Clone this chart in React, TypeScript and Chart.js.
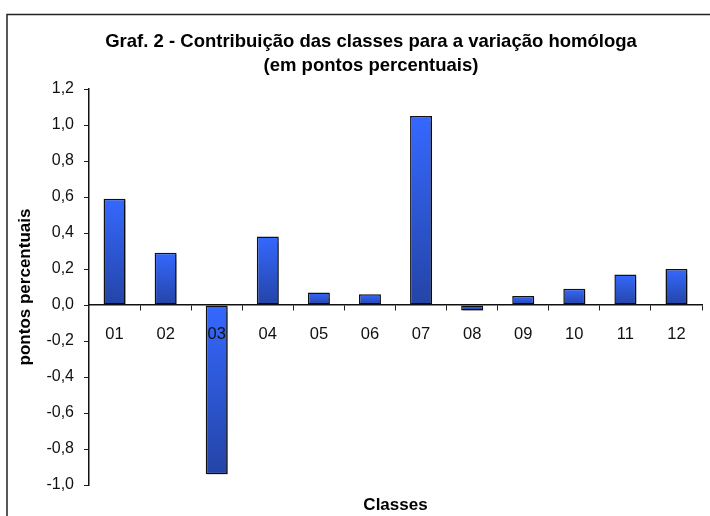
import React, { useEffect, useRef } from "react";
import { Chart, registerables } from "chart.js";

Chart.register(...registerables);

const categories = ["01", "02", "03", "04", "05", "06", "07", "08", "09", "10", "11", "12"];
const contributions = [0.59, 0.29, -0.94, 0.38, 0.07, 0.06, 1.05, -0.03, 0.05, 0.09, 0.17, 0.2];
const titleLines = ["Graf. 2 - Contribuição das classes para a variação homóloga", "(em pontos percentuais)"];
const xTitle = "Classes";
const yTitle = "pontos percentuais";
const yMin = -1.0;
const yMax = 1.2;
const yStep = 0.2;

const FONT = "'Liberation Sans', Arial, sans-serif";

const framePlugin = {
  id: "frame",
  beforeDraw(chart: any) {
    const ctx = chart.ctx;
    ctx.save();
    ctx.fillStyle = "#ffffff";
    ctx.fillRect(0, 0, chart.width, chart.height);
    ctx.strokeStyle = "#222222";
    ctx.lineWidth = 1.5;
    ctx.strokeRect(7, 14.5, chart.width + 50, chart.height + 50);
    ctx.restore();
  },
  afterDraw(chart: any) {
    const ctx = chart.ctx;
    const area = chart.chartArea;
    ctx.save();
    ctx.fillStyle = "#000000";
    ctx.textAlign = "center";
    ctx.textBaseline = "middle";
    ctx.font = `bold 18.5px ${FONT}`;
    ctx.fillText(titleLines[0], 371, 42);
    ctx.fillText(titleLines[1], 371, 66);
    ctx.font = `bold 17px ${FONT}`;
    ctx.fillText(xTitle, (area.left + area.right) / 2, 505);
    ctx.translate(25, (area.top + area.bottom) / 2);
    ctx.rotate(-Math.PI / 2);
    ctx.fillText(yTitle, 0, 0);
    ctx.restore();
  },
};

const shadowPlugin = {
  id: "barShadow",
  beforeDatasetsDraw(chart: any) {
    const ctx = chart.ctx;
    ctx.save();
    ctx.shadowColor = "rgba(0,0,0,0.35)";
    ctx.shadowOffsetX = 2;
    ctx.shadowOffsetY = 2;
    ctx.shadowBlur = 1;
  },
  afterDatasetsDraw(chart: any) {
    chart.ctx.restore();
  },
};

function fmt(v: number) {
  const n = Math.abs(v) < 1e-9 ? 0 : v;
  return n.toFixed(1).replace(".", ",");
}

export default function App() {
  const ref = useRef<HTMLCanvasElement | null>(null);
  useEffect(() => {
    if (!ref.current) return;
    const chart = new Chart(ref.current, {
      type: "bar",
      data: {
        labels: categories,
        datasets: [
          {
            data: contributions,
            backgroundColor: (c: any) => {
              const ch = c.chart;
              if (!ch.chartArea || c.type !== "data") return "#3366ff";
              const y = ch.scales.y;
              const v = c.raw as number;
              const top = y.getPixelForValue(Math.max(v, 0));
              const bot = y.getPixelForValue(Math.min(v, 0));
              if (!isFinite(top) || !isFinite(bot) || top === bot) return "#3366ff";
              const g = ch.ctx.createLinearGradient(0, top, 0, bot);
              g.addColorStop(0, "#3568ff");
              g.addColorStop(1, "#2444a6");
              return g;
            },
            borderColor: "#111111",
            borderWidth: 1.5,
            borderSkipped: false,
            barPercentage: 0.43,
            categoryPercentage: 1,
          },
        ],
      },
      options: {
        animation: false,
        responsive: true,
        maintainAspectRatio: false,
        layout: { padding: { left: 0, right: 8, top: 89, bottom: 31 } },
        plugins: {
          legend: { display: false },
          title: { display: false },
          tooltip: { enabled: false },
        },
        scales: {
          x: {
            type: "category",
            position: { y: 0 } as any,
            offset: true,
            grid: {
              offset: true,
              drawOnChartArea: false,
              drawTicks: true,
              tickLength: 5,
              color: "#222222",
              lineWidth: 1,
              z: 1,
            },
            border: { color: "#111111", width: 1.5, z: 1 },
            ticks: {
              color: "#111111",
              font: { family: FONT, size: 16.5 },
              padding: 15,
              maxRotation: 0,
              autoSkip: false,
              z: 2,
            } as any,
          },
          y: {
            min: yMin,
            max: yMax,
            afterFit: (s: any) => {
              s.width = 89;
            },
            grid: {
              drawOnChartArea: false,
              drawTicks: true,
              tickLength: 5,
              color: "#222222",
            },
            border: { color: "#111111", width: 1.5 },
            ticks: {
              stepSize: yStep,
              color: "#111111",
              font: { family: FONT, size: 16 },
              padding: 10,
              callback: (v: any) => fmt(Number(v)),
            },
          },
        },
      },
      plugins: [framePlugin, shadowPlugin],
    });
    return () => chart.destroy();
  }, []);
  return (
    <div style={{ position: "fixed", left: 0, top: 0, width: 710, height: 516, background: "#fff" }}>
      <canvas ref={ref} />
    </div>
  );
}
